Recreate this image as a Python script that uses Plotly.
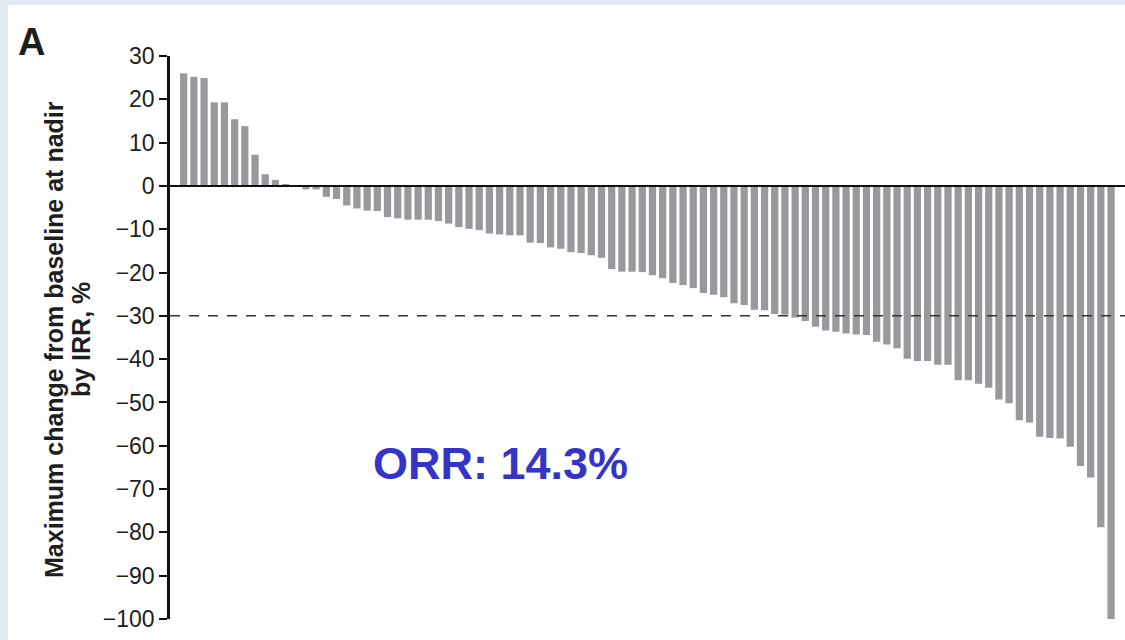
import plotly.graph_objects as go

# ---- data ----
patients = list(range(1, 93))
max_change = [26.0, 25.2, 24.9, 19.3, 19.3, 15.4, 13.8, 7.2, 2.7, 1.4,
              0.3, 0.2, -0.8, -0.8, -2.5, -3.0, -4.5, -5.2, -5.7, -5.8,
              -7.2, -7.5, -7.8, -7.8, -7.8, -8.1, -8.7, -9.5, -9.9, -10.2,
              -11.0, -11.2, -11.4, -11.4, -13.1, -13.2, -14.2, -14.5, -15.3, -15.5,
              -16.0, -16.6, -19.2, -19.8, -19.8, -19.9, -20.6, -21.3, -22.4, -22.9,
              -23.6, -24.7, -25.1, -25.7, -27.1, -27.5, -28.6, -28.7, -29.6, -29.7,
              -30.4, -31.2, -32.5, -33.4, -33.7, -34.1, -34.3, -34.4, -36.0, -36.6,
              -37.5, -39.9, -40.4, -40.4, -41.3, -41.3, -44.9, -44.9, -45.7, -46.6,
              -49.3, -50.2, -54.1, -54.6, -57.9, -58.2, -58.3, -60.2, -64.7, -67.3,
              -78.8, -100.0]
y_ticks = [30, 20, 10, 0, -10, -20, -30, -40, -50, -60, -70, -80, -90, -100]
threshold = -30
panel_label = "A"
orr_text = "ORR: 14.3%"
y_title_lines = ["Maximum change from baseline at nadir", "by IRR, %"]

# ---- layout geometry ----
W, H = 1125, 640
ML, MR, MT, MB = 170, 0, 56, 21
PW, PH = W - ML - MR, H - MT - MB


def px(x):
    return (x - ML) / PW


def py(y):
    return (H - MB - y) / PH


FONT = "Liberation Sans, Arial, Helvetica, sans-serif"
TXT = "#1e1e1e"

fig = go.Figure()
fig.add_trace(go.Bar(
    x=patients, y=max_change,
    marker=dict(color="#98989d", line=dict(width=0)),
    hoverinfo="skip",
))

annotations = [
    dict(text="<b>" + panel_label + "</b>", xref="paper", yref="paper",
         x=px(31), y=py(42), xanchor="center", yanchor="middle",
         showarrow=False, font=dict(size=38, family=FONT, color=TXT)),
    dict(text="<b>" + orr_text + "</b>", xref="paper", yref="paper",
         x=px(500), y=py(463), xanchor="center", yanchor="middle",
         showarrow=False, font=dict(size=45, family=FONT, color="#3434c8")),
]
for line_text, cx in zip(y_title_lines, [54, 81]):
    annotations.append(dict(
        text="<b>" + line_text + "</b>", xref="paper", yref="paper",
        x=px(cx), y=py(340), xanchor="center", yanchor="middle",
        textangle=-90, showarrow=False,
        font=dict(size=25, family=FONT, color=TXT)))

fig.update_layout(
    width=W, height=H,
    margin=dict(l=ML, r=MR, t=MT, b=MB, pad=0),
    paper_bgcolor="#e2e9f1",
    plot_bgcolor="white",
    bargap=0.29,
    showlegend=False,
    font=dict(family=FONT, color=TXT),
    xaxis=dict(visible=False, range=[-0.344, 93.37]),
    yaxis=dict(
        range=[-100, 30],
        tickvals=y_ticks,
        showline=True, linecolor="#111", linewidth=2.5,
        ticks="outside", ticklen=8, tickwidth=2, tickcolor="#111",
        tickfont=dict(size=23, family=FONT, color=TXT),
        showgrid=False, zeroline=False,
    ),
    shapes=[
        dict(type="rect", xref="paper", yref="paper",
             x0=px(8), x1=px(W), y0=py(5), y1=py(H),
             fillcolor="white", line=dict(width=0), layer="below"),
        dict(type="line", xref="paper", yref="y", x0=0, x1=1, y0=0, y1=0,
             line=dict(color="#111", width=2), layer="above"),
        dict(type="line", xref="paper", yref="y", x0=0, x1=1,
             y0=threshold, y1=threshold,
             line=dict(color="#333", width=1.5, dash="10px,9px"), layer="above"),
    ],
    annotations=annotations,
)

fig.write_html("out.html")
